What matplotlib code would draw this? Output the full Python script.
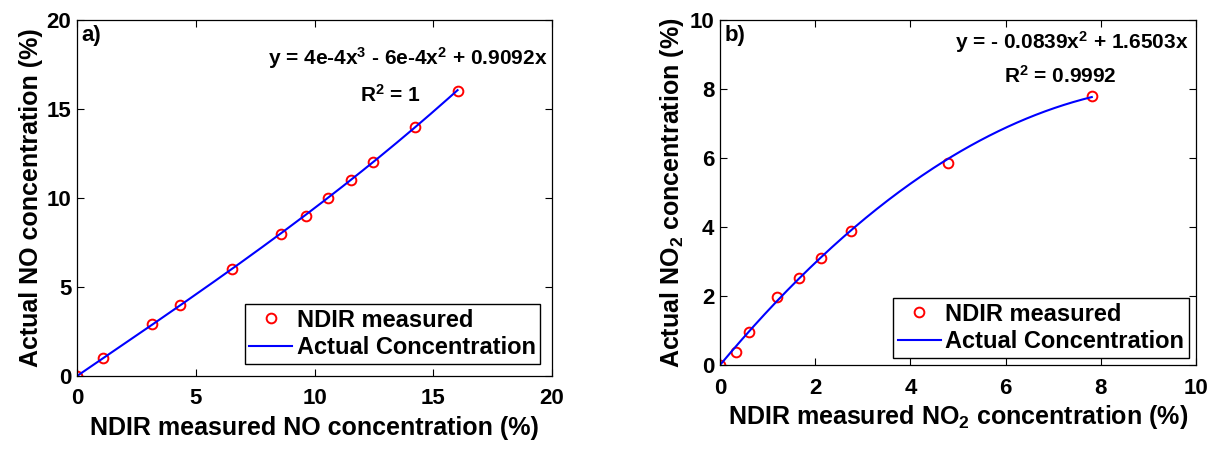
import numpy as np
import matplotlib.pyplot as plt

plt.rcParams['font.family'] = ['Liberation Sans', 'DejaVu Sans']
plt.rcParams['font.weight'] = 'bold'
plt.rcParams['mathtext.fontset'] = 'custom'
plt.rcParams['mathtext.rm'] = 'Liberation Sans:bold'
plt.rcParams['mathtext.it'] = 'Liberation Sans:bold'
plt.rcParams['mathtext.bf'] = 'Liberation Sans:bold'

# panel a) NO
no_measured = [0, 1.11, 3.15, 4.34, 6.54, 8.59, 9.63, 10.56, 11.54, 12.44, 14.21, 16.02]
no_actual = [0, 1.0, 2.9, 4.0, 6.0, 8.0, 9.0, 10.0, 11.0, 12.0, 14.0, 16.0]
no_fit = [4e-4, -6e-4, 0.9092, 0]  # cubic, highest power first

# panel b) NO2
no2_measured = [0, 0.33, 0.60, 1.20, 1.65, 2.12, 2.75, 4.78, 7.81]
no2_actual = [0, 0.38, 0.96, 1.96, 2.53, 3.11, 3.90, 5.85, 7.79]
no2_fit = [-0.0839, 1.6503, 0]

fig = plt.figure(figsize=(12.15, 4.49), dpi=100)
ax1 = fig.add_axes([0.0634, 0.1626, 0.391, 0.793])
ax2 = fig.add_axes([0.5926, 0.187, 0.3918, 0.768])


def style_axes(ax):
    ax.tick_params(direction='in', top=True, right=True, labelsize=16, length=5, width=0.8)
    ax.tick_params(axis='x', pad=9)
    ax.tick_params(axis='y', pad=4)
    for s in ax.spines.values():
        s.set_linewidth(0.9)
    for lab in ax.get_xticklabels() + ax.get_yticklabels():
        lab.set_fontweight('bold')


legend_kw = dict(loc='lower right', prop={'weight': 'bold', 'size': 17},
                 fancybox=False, edgecolor='black', framealpha=1, handlelength=1.8,
                 borderpad=0.2, labelspacing=0.2, handletextpad=0.2)

# a)
xa = np.linspace(0, max(no_measured), 200)
ax1.plot(no_measured, no_actual, 'o', mfc='none', mec='red', ms=7, mew=1.4, label='NDIR measured')
ax1.plot(xa, np.polyval(no_fit, xa), color='blue', lw=1.5, label='Actual Concentration')
ax1.set_xlim(0, 20)
ax1.set_ylim(0, 20)
ax1.set_xticks([0, 5, 10, 15, 20])
ax1.set_yticks([0, 5, 10, 15, 20])
ax1.set_xlabel('NDIR measured NO concentration (%)', fontsize=18, fontweight='bold', labelpad=5)
ax1.set_ylabel('Actual NO concentration (%)', fontsize=18, fontweight='bold', labelpad=3)
ax1.text(0.01, 0.985, 'a)', transform=ax1.transAxes, fontsize=16, fontweight='bold', va='top')
ax1.text(0.99, 0.893, r'y = 4e-4x$^3$ - 6e-4x$^2$ + 0.9092x', transform=ax1.transAxes,
         fontsize=15, fontweight='bold', ha='right', va='center')
ax1.text(0.66, 0.79, r'R$^2$ = 1', transform=ax1.transAxes,
         fontsize=15, fontweight='bold', ha='center', va='center')
ax1.legend(borderaxespad=0.5, **legend_kw)
style_axes(ax1)

# b)
xb = np.linspace(0, max(no2_measured), 200)
ax2.plot(no2_measured, no2_actual, 'o', mfc='none', mec='red', ms=7, mew=1.4, label='NDIR measured')
ax2.plot(xb, np.polyval(no2_fit, xb), color='blue', lw=1.5, label='Actual Concentration')
ax2.set_xlim(0, 10)
ax2.set_ylim(0, 10)
ax2.set_xticks([0, 2, 4, 6, 8, 10])
ax2.set_yticks([0, 2, 4, 6, 8, 10])
ax2.set_xlabel(r'NDIR measured NO$_2$ concentration (%)', fontsize=18, fontweight='bold', labelpad=3)
ax2.set_ylabel(r'Actual NO$_2$ concentration (%)', fontsize=18, fontweight='bold', labelpad=3)
ax2.text(0.01, 0.985, 'b)', transform=ax2.transAxes, fontsize=16, fontweight='bold', va='top')
ax2.text(0.985, 0.936, r'y = - 0.0839x$^2$ + 1.6503x', transform=ax2.transAxes,
         fontsize=15, fontweight='bold', ha='right', va='center')
ax2.text(0.716, 0.84, r'R$^2$ = 0.9992', transform=ax2.transAxes,
         fontsize=15, fontweight='bold', ha='center', va='center')
ax2.legend(borderaxespad=0.3, **legend_kw)
style_axes(ax2)

fig.savefig('out.png', dpi=100)
